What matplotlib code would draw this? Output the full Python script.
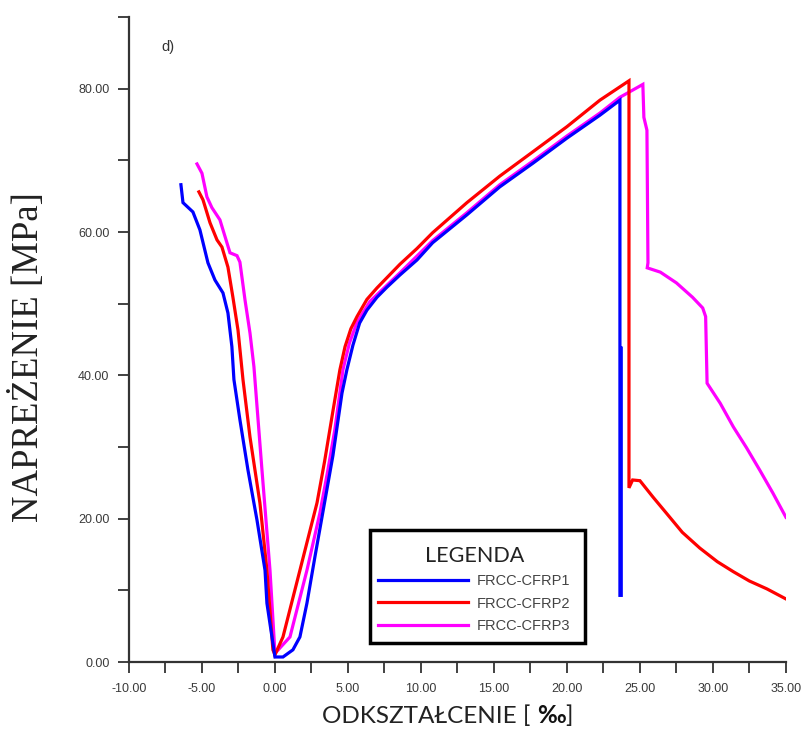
import matplotlib
matplotlib.use('Agg')
import matplotlib.pyplot as plt
from matplotlib.ticker import MultipleLocator, FormatStrFormatter
from matplotlib.patches import Rectangle

# FRCC-CFRP1 (blue)
strain_1 = [-6.44, -6.30, -5.62, -5.14, -4.59, -4.11, -3.56, -3.22, -2.95, -2.81,
            -2.40, -1.85, -1.23, -0.68, -0.55, 0.00, 0.55, 1.23, 1.71, 2.19,
            2.74, 3.29, 3.97, 4.59, 4.93, 5.34, 5.80, 6.30, 6.99, 7.67,
            8.56, 9.73, 10.80, 13.15, 15.40, 17.67, 20.00, 22.26, 23.63, 23.63,
            23.72, 23.72]
stress_1 = [66.6, 64.1, 62.8, 60.3, 55.7, 53.3, 51.5, 48.7, 44.0, 39.4,
            33.8, 26.8, 19.8, 12.8, 8.2, 0.7, 0.7, 1.7, 3.5, 8.2,
            14.7, 21.0, 28.8, 37.5, 40.8, 44.2, 47.3, 49.1, 50.9, 52.3,
            54.0, 56.1, 58.5, 62.4, 66.3, 69.6, 73.1, 76.3, 78.4, 9.3,
            9.3, 43.8]

# FRCC-CFRP2 (red)
strain_2 = [-5.21, -4.93, -4.45, -3.97, -3.63, -3.22, -2.88, -2.53, -2.19, -1.71,
            -1.03, -0.55, -0.14, 0.00, 0.55, 1.71, 2.88, 3.40, 3.97, 4.45,
            4.80, 5.20, 5.62, 6.30, 6.99, 8.56, 9.73, 10.80, 13.15, 15.40,
            17.67, 20.00, 22.26, 24.25, 24.25, 24.50, 25.00, 25.90, 26.80, 27.90,
            29.10, 30.30, 31.40, 32.50, 33.70, 35.00]
stress_2 = [65.6, 64.5, 61.3, 58.9, 57.9, 55.1, 50.9, 46.3, 39.4, 31.4,
            22.2, 12.8, 1.7, 1.0, 3.5, 12.8, 22.2, 28.0, 35.0, 40.8,
            44.0, 46.5, 48.2, 50.6, 52.2, 55.5, 57.7, 59.9, 64.1, 67.8,
            71.2, 74.7, 78.4, 81.1, 24.3, 25.4, 25.3, 23.0, 20.8, 18.1,
            15.9, 14.0, 12.6, 11.3, 10.2, 8.8]

# FRCC-CFRP3 (magenta)
strain_3 = [-5.34, -5.00, -4.66, -4.32, -3.77, -3.08, -2.60, -2.40, -2.05, -1.71,
            -1.44, -0.89, -0.34, 0.00, 1.03, 2.19, 3.08, 3.60, 4.10, 4.66,
            5.10, 5.60, 6.50, 8.56, 10.80, 13.15, 15.40, 17.67, 20.00, 22.26,
            23.63, 25.20, 25.27, 25.48, 25.55, 25.50, 26.40, 27.50, 28.60, 29.30,
            29.50, 29.60, 30.50, 31.40, 32.30, 33.20, 34.10, 35.00]
stress_3 = [69.5, 68.2, 64.9, 63.4, 61.7, 57.1, 56.7, 55.8, 50.5, 45.9,
            41.2, 26.8, 12.8, 1.2, 3.5, 12.8, 20.8, 26.5, 32.4, 40.8,
            44.5, 47.3, 50.3, 54.3, 58.8, 62.7, 66.6, 69.9, 73.4, 76.6,
            78.8, 80.6, 76.0, 74.2, 55.7, 55.0, 54.4, 52.9, 50.9, 49.4,
            48.2, 38.9, 36.1, 32.8, 29.9, 26.8, 23.6, 20.2]

series = [
    (strain_1, stress_1, '#0000FF', 'FRCC-CFRP1'),
    (strain_2, stress_2, '#FF0000', 'FRCC-CFRP2'),
    (strain_3, stress_3, '#FF00FF', 'FRCC-CFRP3'),
]

fig = plt.figure(figsize=(8.05, 7.4), dpi=100)
ax = fig.add_axes([0.1602, 0.1054, 0.8161, 0.8716])

# draw order: magenta under red under blue
lines = {}
for x, y, c, lab in [series[2], series[1], series[0]]:
    lines[lab], = ax.plot(x, y, color=c, lw=2.3, label=lab, solid_joinstyle='miter')

ax.set_xlim(-10, 35)
ax.set_ylim(0, 90)

for s in ['top', 'right']:
    ax.spines[s].set_visible(False)
for s in ['left', 'bottom']:
    ax.spines[s].set_color('#333333')
    ax.spines[s].set_linewidth(1.6)

ax.xaxis.set_major_locator(MultipleLocator(5))
ax.xaxis.set_minor_locator(MultipleLocator(2.5))
ax.yaxis.set_major_locator(MultipleLocator(20))
ax.yaxis.set_minor_locator(MultipleLocator(10))
ax.xaxis.set_major_formatter(FormatStrFormatter('%.2f'))
ax.yaxis.set_major_formatter(FormatStrFormatter('%.2f'))
ax.tick_params(which='both', direction='out', length=8, width=1.3, color='#333333')
ax.tick_params(axis='x', which='major', pad=7)
ax.tick_params(axis='y', which='major', pad=6)
for lbl in ax.get_xticklabels() + ax.get_yticklabels():
    lbl.set_fontfamily('Liberation Sans')
    lbl.set_fontsize(9)
    lbl.set_color('#3a3a3a')

# panel mark
ax.text(-7.75, 85.8, 'd)', fontsize=10.5, family='Liberation Sans',
        color='#333333', ha='left', va='center')

# axis titles
fig.text(28 / 805, 1 - 357 / 740, 'NAPREŻENIE [MPa]', rotation=90,
         family='Liberation Serif', fontsize=26.5, color='#222222',
         ha='center', va='center')
t1 = fig.text(322 / 805, 1 - 716 / 740, 'ODKSZTAŁCENIE [ ', family='Lato',
              fontsize=17.5, color='#222222', ha='left', va='center')
t2 = ax.annotate('‰', xy=(1, 0), xycoords=t1, va='bottom', ha='left',
                 family='Lato', fontsize=17.5, fontweight='bold', color='#111111')
ax.annotate(']', xy=(1, 0), xycoords=t2, va='bottom', ha='left',
            family='Lato', fontsize=17.5, color='#222222')

# legend box drawn separately, legend itself frameless inside it
ax.add_patch(Rectangle((0.3668, 0.0295), 0.3272, 0.1752, transform=ax.transAxes,
                       facecolor='white', edgecolor='black', lw=2.5, zorder=5))
hl = [lines['FRCC-CFRP1'], lines['FRCC-CFRP2'], lines['FRCC-CFRP3']]
leg = ax.legend(hl, [h.get_label() for h in hl], title='LEGENDA', loc='upper left',
                bbox_to_anchor=(0.379, 0.180), borderaxespad=0, borderpad=0,
                prop={'family': 'Liberation Sans', 'size': 10.5},
                title_fontproperties={'family': 'Lato', 'size': 15.5},
                handlelength=6.2, handletextpad=0.6, labelspacing=0.57,
                frameon=False, labelcolor='#444444')
leg.set_zorder(6)
leg.get_title().set_color('#222222')

plt.savefig('out.png', dpi=100)
